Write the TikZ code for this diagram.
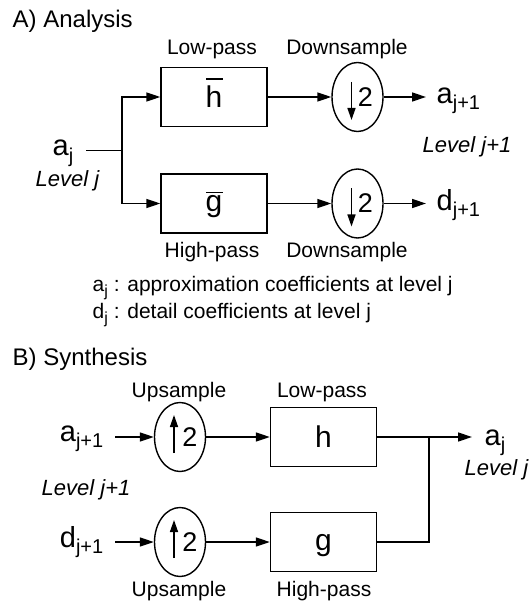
\documentclass[tikz,border=0pt]{standalone}
\usepackage{fontspec}
\setmainfont{Liberation Sans}
\usetikzlibrary{arrows.meta,shapes.geometric}
\newcommand\fsz[1]{\fontsize{#1}{#1}\selectfont}
\newcommand\subx[1]{\raisebox{-6.5pt}{\fsz{20}#1}}
\newcommand\subs[1]{\raisebox{-5pt}{\fsz{16}#1}}
\begin{document}
\begin{tikzpicture}[x=1pt,y=-1pt,line width=1.4pt,
  title/.style={font=\fsz{24}, inner sep=0, anchor=base west},
  lbl/.style={font=\fsz{21}, inner sep=0, anchor=base},
  note/.style={font=\fsz{21}, inner sep=0, anchor=base west},
  lev/.style={font=\fsz{22}\itshape, inner sep=0, anchor=base west},
  big/.style={font=\fsz{29}, inner sep=0},
  filt/.style={draw, minimum width=106pt, minimum height=59pt, inner sep=0, font=\fsz{30}, text depth=0pt},
  samp/.style={draw, ellipse, minimum width=51pt, minimum height=69pt, inner sep=0},
  two/.style={font=\fsz{27}, inner sep=0, text depth=0pt},
  arr/.style={-{Triangle[length=14pt,width=9pt]}},
  iarr/.style={-{Triangle[length=12pt,width=8pt]}},
  ovbar/.style={line width=1.4pt}
]
\useasboundingbox (0,0) rectangle (531,601);

% ---------- A) Analysis ----------
\node[title] (tA) at (12,28) {A) Analysis};
\node[lbl] (lpA) at (212,55) {Low-pass};
\node[lbl] (dsA) at (347,55) {Downsample};
\node[lbl] (hpA) at (212,258) {High-pass};
\node[lbl] (dsB) at (347,258) {Downsample};

\node[filt] (hb) at (214,97) {h};
\draw[ovbar] ([shift={(-8,-18)}]hb.center) -- ([shift={(8.5,-18)}]hb.center);
\node[filt] (gb) at (214,203.5) {g};
\draw[ovbar] ([shift={(-8,-11)}]gb.center) -- ([shift={(8.5,-11)}]gb.center);

\node[samp] (d1) at (357.5,97) {};
\draw[iarr] ([shift={(-6,-15)}]d1.center) -- ([shift={(-6,23)}]d1.center);
\node[two] (d1t) at ([shift={(8,0)}]d1.center) {2};
\node[samp] (d2) at (357.5,203.5) {};
\draw[iarr] ([shift={(-6,-15)}]d2.center) -- ([shift={(-6,23)}]d2.center);
\node[two] (d2t) at ([shift={(8,0)}]d2.center) {2};

\node[big, anchor=base west] (ajA) at (52,156) {a\subx{j}};
\node[lev] (levjA) at (35,187) {Level j};
\coordinate (ajs) at (86,150.7);
\coordinate (brA) at (122,150.7);
\draw (ajs) -- (brA);
\draw[arr] (brA) |- (hb.west);
\draw[arr] (brA) |- (gb.west);
\draw[arr] (hb.east) -- (d1.west);
\draw[arr] (gb.east) -- (d2.west);

\coordinate (o1) at (426,97);
\coordinate (o2) at (426,203.5);
\draw[arr] (d1.east) -- (o1);
\draw[arr] (d2.east) -- (o2);
\node[big, anchor=base west] (aj1A) at (436,103.5) {a\subx{j+1}};
\node[big, anchor=base west] (dj1A) at (436,210.5) {d\subx{j+1}};
\node[lev] (levj1A) at (422,153) {Level j+1};

\node[note] (n1) at (92,291.5) {a\subs{j} : approximation coefficients at level j};
\node[note] (n2) at (92,318) {d\subs{j} : detail coefficients at level j};

% ---------- B) Synthesis ----------
\node[title] (tB) at (12,365) {B) Synthesis};
\node[lbl] (usA) at (179,397) {Upsample};
\node[lbl] (lpB) at (322,397) {Low-pass};
\node[lbl] (usB) at (179,596) {Upsample};
\node[lbl] (hpB) at (324,596) {High-pass};

\node[samp] (u1) at (180,437) {};
\draw[iarr] ([shift={(-6,16)}]u1.center) -- ([shift={(-6,-22)}]u1.center);
\node[two] (u1t) at ([shift={(10,0)}]u1.center) {2};
\node[samp] (u2) at (180,542) {};
\draw[iarr] ([shift={(-6,16)}]u2.center) -- ([shift={(-6,-22)}]u2.center);
\node[two] (u2t) at ([shift={(10,0)}]u2.center) {2};

\node[filt] (hbx) at (323.5,437) {h};
\node[filt] (gbx) at (323.5,542) {g};

\node[big, anchor=base east] (aj1B) at (104,441) {a\subx{j+1}};
\node[big, anchor=base east] (dj1B) at (104,547) {d\subx{j+1}};
\node[lev] (levj1B) at (41,495) {Level j+1};
\coordinate (ia) at (115,437);
\coordinate (id) at (115,542);
\draw[arr] (ia) -- (u1.west);
\draw[arr] (id) -- (u2.west);
\draw[arr] (u1.east) -- (hbx.west);
\draw[arr] (u2.east) -- (gbx.west);

\coordinate (jn) at (429,437);
\coordinate (oa) at (472,437);
\draw (hbx.east) -- (jn);
\draw (gbx.east) -| (jn);
\draw[arr] (jn) -- (oa);
\node[big, anchor=base west] (ajB) at (484,445) {a\subx{j}};
\node[lev] (levjB) at (464,475) {Level j};
\end{tikzpicture}
\end{document}
